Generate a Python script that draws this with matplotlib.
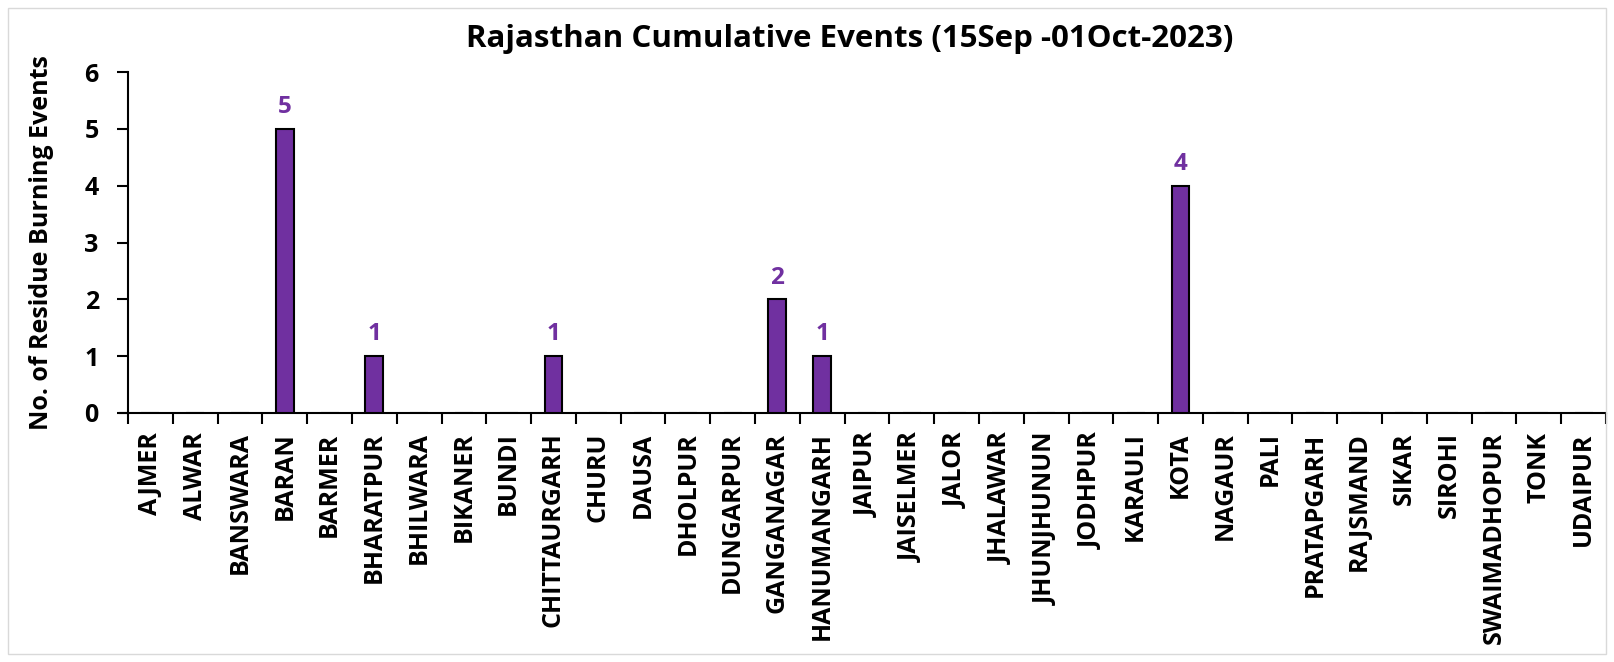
import matplotlib
matplotlib.use("Agg")
import matplotlib.pyplot as plt
from matplotlib.patches import Rectangle

districts = ["AJMER", "ALWAR", "BANSWARA", "BARAN", "BARMER", "BHARATPUR", "BHILWARA",
             "BIKANER", "BUNDI", "CHITTAURGARH", "CHURU", "DAUSA", "DHOLPUR", "DUNGARPUR",
             "GANGANAGAR", "HANUMANGARH", "JAIPUR", "JAISELMER", "JALOR", "JHALAWAR",
             "JHUNJHUNUN", "JODHPUR", "KARAULI", "KOTA", "NAGAUR", "PALI", "PRATAPGARH",
             "RAJSMAND", "SIKAR", "SIROHI", "SWAIMADHOPUR", "TONK", "UDAIPUR"]
events = [0, 0, 0, 5, 0, 1, 0, 0, 0, 1, 0, 0, 0, 0, 2, 1, 0, 0, 0, 0,
          0, 0, 0, 4, 0, 0, 0, 0, 0, 0, 0, 0, 0]
yticks = [0, 1, 2, 3, 4, 5, 6]
title = "Rajasthan Cumulative Events (15Sep -01Oct-2023)"
ylabel = "No. of Residue Burning Events"

purple = "#7030A0"
plt.rcParams['font.family'] = ['Open Sans', 'DejaVu Sans']

W, H = 1614, 662
fig = plt.figure(figsize=(W / 100, H / 100), dpi=100)
ax = fig.add_axes([128 / W, 1 - 413 / H, (1606 - 128) / W, (413 - 72) / H])

n = len(districts)
x = list(range(n))
ax.bar(x, events, width=0.4, color=purple, edgecolor="black", linewidth=1.5, zorder=3)
for xi, v in zip(x, events):
    if v > 0:
        ax.annotate(str(v), (xi, v), xytext=(0, 7), textcoords="offset points",
                    ha="center", va="bottom", color=purple, fontsize=17.5, fontweight="bold")

ax.set_xlim(-0.5, n - 0.5)
ax.set_ylim(0, 6)
ax.set_yticks(yticks)
ax.set_yticklabels([str(t) for t in yticks], fontsize=18, fontweight="bold")
ax.set_xticks([i - 0.5 for i in range(n + 1)], minor=False)
ax.set_xticklabels([""] * (n + 1))
ax.set_xticks(x, minor=True)
ax.set_xticklabels(districts, minor=True, rotation=90, fontsize=18, fontweight="bold")
ax.tick_params(axis="x", which="major", length=8, width=1.5, direction="out")
ax.tick_params(axis="x", which="minor", length=0, pad=14)
ax.tick_params(axis="y", length=8, width=1.5, direction="out", pad=13)

for s in ["top", "right"]:
    ax.spines[s].set_visible(False)
ax.spines["left"].set_linewidth(1.5)
ax.spines["bottom"].set_linewidth(1.5)
ax.spines["bottom"].set_bounds(-0.5 - 8 / 44.8, n - 0.5)

ax.set_ylabel(ylabel, fontsize=18, fontweight="bold", labelpad=22)
fig.text(850 / W, 1 - 39 / H, title, ha="center", va="center", fontsize=22.5, fontweight="bold")

fig.patches.append(Rectangle((8 / W, 8 / H), 1 - 16 / W, 1 - 16 / H, transform=fig.transFigure,
                             fill=False, edgecolor="#D9D9D9", linewidth=1))

fig.savefig("out.png", dpi=100)
